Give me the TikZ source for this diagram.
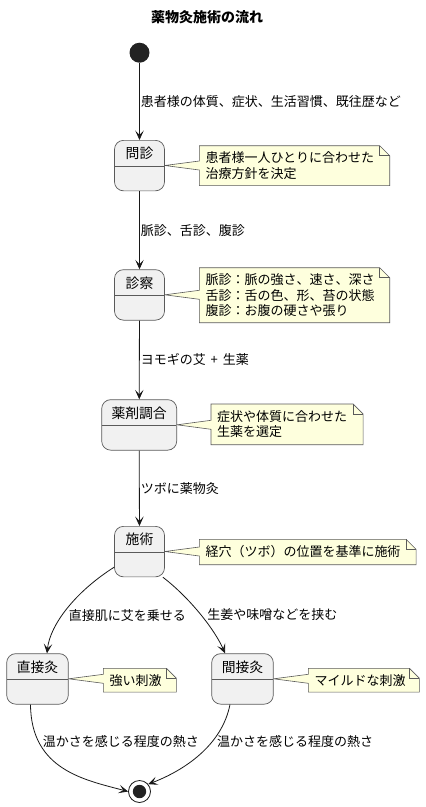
\documentclass[tikz,border=0pt]{standalone}
\usepackage{fontspec}
\setmainfont{Noto Sans CJK JP}
\usetikzlibrary{arrows.meta,calc,backgrounds}
\definecolor{boxfill}{HTML}{F1F1F1}
\definecolor{boxline}{HTML}{5A5A5A}
\definecolor{notefill}{HTML}{FEFFDD}
\definecolor{ink}{HTML}{181818}
\definecolor{dotc}{HTML}{222222}
\newcommand\notepoly[2]{%
  \filldraw[noteline] (#1.north west) -- ([xshift=-10pt]#1.north east) -- ([yshift=-10pt]#1.north east) -- (#1.south east) -- (#1.south west) -- ($(#1.west |- #2)+(0,4.5)$) -- (#2) -- ($(#1.west |- #2)+(0,-4.5)$) -- cycle;
  \draw[noteline, fill=none] ([xshift=-10pt]#1.north east) -- ([xshift=-10pt,yshift=-10pt]#1.north east) -- ([yshift=-10pt]#1.north east);
}
\tikzset{
  base/.style={font=\fontsize{13}{15.2}\selectfont},
  state/.style={draw=boxline, line width=0.7pt, fill=boxfill, rounded corners=9pt,
    minimum height=50.5pt, inner sep=0pt, anchor=north,
    path picture={\draw[boxline, line width=0.7pt] ([yshift=-25.5pt]path picture bounding box.north west) -- ([yshift=-25.5pt]path picture bounding box.north east);}},
  statelab/.style={anchor=center, label distance=-13.5pt, inner sep=0pt, font=\fontsize{13.8}{16}\selectfont},
  startdot/.style={circle, fill=dotc, minimum size=20pt, inner sep=0pt},
  enddot/.style={circle, draw=ink, line width=0.8pt, fill=white, minimum size=22pt, inner sep=0pt,
    path picture={\fill[dotc] (path picture bounding box.center) circle (6.7pt);}},
  trans/.style={draw=ink, line width=0.8pt, -{Stealth[length=9.5pt,width=8.5pt,inset=4.5pt]}},
  translab/.style={anchor=west, inner sep=1pt, base},
  notetext/.style={base, anchor=north west, align=left, inner xsep=6pt, inner ysep=0pt},
  noteline/.style={draw=boxline, line width=0.6pt, fill=notefill},
  titlestyle/.style={font=\fontsize{14}{16}\selectfont\bfseries}
}
\begin{document}
\begin{tikzpicture}[x=1pt, y=-1pt]
\useasboundingbox (0,0) rectangle (426,807);
\node[titlestyle] (title) at (207,17) {薬物灸施術の流れ};
% states
\node[startdot] (start) at (139.5,52.7) {};
\node[state, minimum width=50pt, label={[statelab]north:問診}] (s1) at (139.5,140) {};
\node[state, minimum width=50pt, label={[statelab]north:診察}] (s2) at (139.5,269.3) {};
\node[state, minimum width=75pt, label={[statelab]north:薬剤調合}] (s3) at (139.2,399.3) {};
\node[state, minimum width=50pt, label={[statelab]north:施術}] (s4) at (139.5,526) {};
\node[state, minimum width=61.6pt, label={[statelab]north:直接灸}] (s5) at (37.5,653.3) {};
\node[state, minimum width=61.6pt, label={[statelab]north:間接灸}] (s6) at (242.5,653.3) {};
\node[enddot] (end) at (139.5,791.5) {};
% notes
\node[notetext, text width=178pt, minimum height=39.5pt] (n1) at (199.3,145.7) {患者様一人ひとりに合わせた\\治療方針を決定};
\node[notetext, text width=178pt, minimum height=54.6pt] (n2) at (199.3,267.7) {脈診：脈の強さ、速さ、深さ\\舌診：舌の色、形、苔の状態\\腹診：お腹の硬さや張り};
\node[notetext, text width=139.7pt, minimum height=40.3pt] (n3) at (211,404) {症状や体質に合わせた\\生薬を選定};
\node[notetext, text width=204.4pt, minimum height=25pt] (n4) at (199.3,539.3) {経穴（ツボ）の位置を基準に施術};
\node[notetext, text width=60.7pt, minimum height=23.4pt] (n5) at (103.3,668.3) {強い刺激};
\node[notetext, text width=98.7pt, minimum height=23.4pt] (n6) at (308.3,668.3) {マイルドな刺激};
\coordinate (p1) at ([yshift=-25.5pt]s1.north east);
\coordinate (p2) at ([yshift=-25.5pt]s2.north east);
\coordinate (p3) at ([yshift=-25.5pt]s3.north east);
\coordinate (p4) at ([yshift=-25.5pt]s4.north east);
\coordinate (p5) at ([yshift=-25.5pt]s5.north east);
\coordinate (p6) at ([yshift=-25.5pt]s6.north east);
\begin{scope}[on background layer]
\notepoly{n1}{p1}
\notepoly{n2}{p2}
\notepoly{n3}{p3}
\notepoly{n4}{p4}
\notepoly{n5}{p5}
\notepoly{n6}{p6}
\end{scope}
% transitions
\draw[trans] (start) -- node[translab] {患者様の体質、症状、生活習慣、既往歴など} (s1);
\draw[trans] (s1) -- node[translab] {脈診、舌診、腹診} (s2);
\draw[trans] (s2) -- node[translab] {ヨモギの艾\hspace{5pt}+\hspace{5pt}生薬} (s3);
\draw[trans] (s3) -- node[translab] {ツボに薬物灸} (s4);
\draw[trans] ([yshift=10pt]s4.south west) .. controls (75,592) and (50,625) .. ([xshift=9.5pt]s5.north)
  node[translab, pos=0.57, xshift=5pt] {直接肌に艾を乗せる};
\draw[trans] ([xshift=-2pt]s4.south east) .. controls (190,598) and (215,630) .. ([xshift=-17.5pt]s6.north)
  node[translab, pos=0.5, xshift=5.5pt] {生姜や味噌などを挟む};
\draw[trans] ([xshift=-7pt]s5.south) .. controls (31,770) and (85,780) .. (end.west)
  node[translab, pos=0.23, xshift=3pt] {温かさを感じる程度の熱さ};
\draw[trans] ([xshift=-12.5pt]s6.south) .. controls (222,745) and (185,770) .. (end.40)
  node[translab, pos=0.35, xshift=3.5pt] {温かさを感じる程度の熱さ};
\end{tikzpicture}
\end{document}
